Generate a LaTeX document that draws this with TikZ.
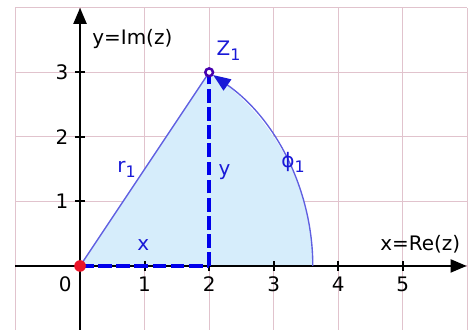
\documentclass[tikz,border=0pt]{standalone}
\usepackage{fontspec}
\setmainfont{DejaVu Sans}
\usepackage{tikz}
\usetikzlibrary{arrows.meta}
\definecolor{gridpink}{RGB}{225,195,205}
\definecolor{sectorblue}{RGB}{214,237,251}
\definecolor{labelblue}{RGB}{25,25,215}
\definecolor{dashblue}{RGB}{0,0,235}
\definecolor{rayblue}{RGB}{95,95,225}
\definecolor{ptpurple}{RGB}{70,0,175}
\definecolor{origred}{RGB}{235,20,40}
\newcommand{\lowidx}[1]{\raisebox{-0.45ex}{\fontsize{7}{8}\selectfont #1}}

\begin{document}
\begin{tikzpicture}[
  font=\fontsize{8.8}{10}\selectfont,
  axis/.style={line width=1.1pt, -{Triangle[length=0.25cm, width=0.2cm]}},
  tick/.style={line width=0.8pt},
  num/.style={inner sep=1pt},
  lbl/.style={text=labelblue, inner sep=1pt},
  ray/.style={rayblue, line width=0.6pt},
  part/.style={dashblue, line width=1.5pt, dash pattern=on 6pt off 2pt},
  sector/.style={fill=sectorblue}
]
\useasboundingbox (-1.24,-0.99) rectangle (6.01,4.12);

%% Grid
\draw[gridpink, line width=0.5pt] (-1,-1) grid (6,4);

%% Points
\coordinate (O) at (0,0);
\coordinate (Z1) at (2,3);
\coordinate (X1) at (2,0);
\coordinate (R1) at (3.6056,0);

%% Sector
\fill[sector] (O) -- (Z1) arc[start angle=56.31, end angle=0, radius=3.6056] -- cycle;

%% Axes
\draw[axis] (-1,0) -- (5.99,0);
\draw[axis] (0,-1) -- (0,4);
\foreach \i in {1,...,5}{
  \draw[tick] (\i,-0.08) -- (\i,0.08);
  \node[num] (xt\i) at (\i,-0.28) {\i};
}
\foreach \i in {1,2,3}{
  \draw[tick] (-0.08,\i) -- (0.08,\i);
  \node[num] (yt\i) at (-0.28,\i) {\i};
}
\node[num] (zero) at (-0.23,-0.28) {0};
\node[num] (ylab) at (0.81,3.52) {y=Im(z)};
\node[num] (xlab) at (5.27,0.33) {x=Re(z)};

%% Radius and angle arc
\draw[ray] (O) -- (Z1);
\draw[ray, -{Triangle[length=0.27cm, width=0.21cm, color=labelblue]}] (R1) arc[start angle=0, end angle=55.1, radius=3.6056];

%% Real and imaginary part
\draw[part] (O) -- (X1);
\draw[part] (X1) -- (Z1);

%% Markers
\fill[origred] (O) circle (0.09);
\draw[ptpurple, fill=white, line width=1.1pt] (Z1) circle (0.06);

%% Labels
\node[lbl] (z1lbl) at (2.3,3.33) {Z\lowidx{1}};
\node[lbl] (r1lbl) at (0.72,1.5) {r\lowidx{1}};
\node[lbl] (ylbl) at (2.24,1.46) {y};
\node[lbl] (xlbl) at (0.98,0.32) {x};
\node[lbl] (philbl) at (3.3,1.6) {ϕ\lowidx{1}};

\end{tikzpicture}
\end{document}
